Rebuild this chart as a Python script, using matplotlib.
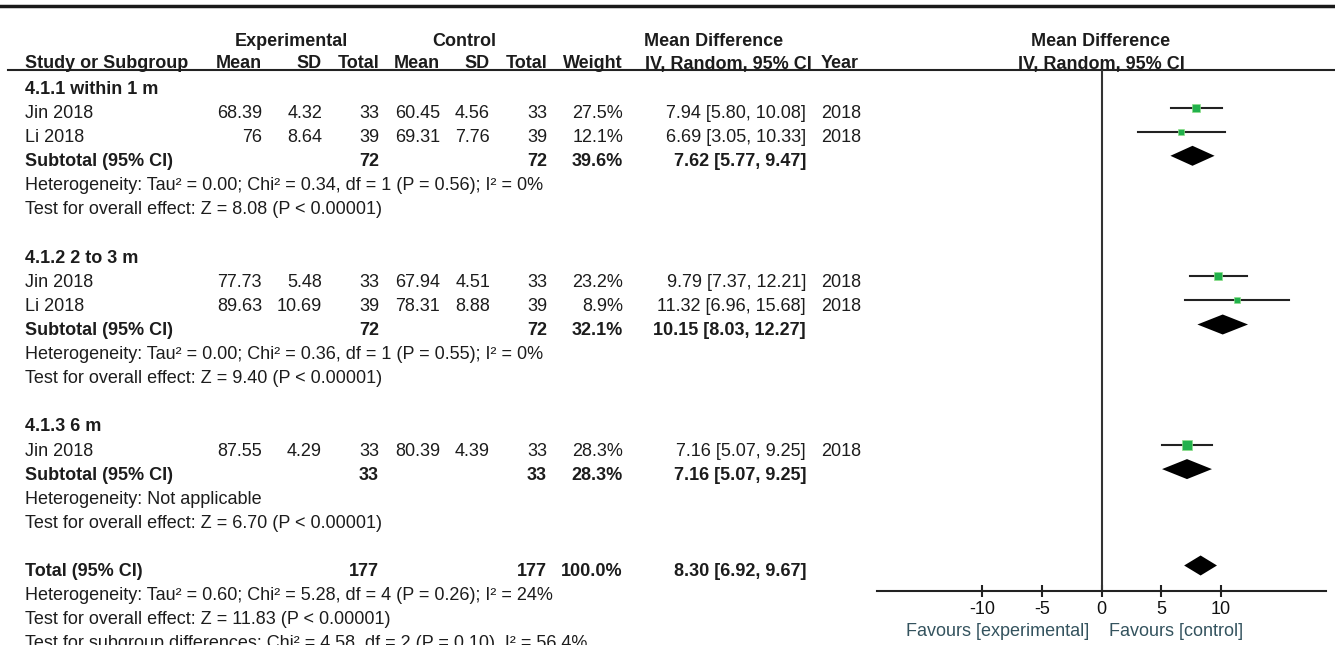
import matplotlib
matplotlib.use('Agg')
import matplotlib.pyplot as plt

plt.rcParams['font.family'] = ['Liberation Sans', 'DejaVu Sans']

# ---- data ----
groups = ['4.1.1 within 1 m', '4.1.2 2 to 3 m', '4.1.3 6 m']
studies = ['Jin 2018', 'Li 2018', 'Jin 2018', 'Li 2018', 'Jin 2018']
study_group = [0, 0, 1, 1, 2]
exp_mean = [68.39, 76, 77.73, 89.63, 87.55]
exp_sd = [4.32, 8.64, 5.48, 10.69, 4.29]
exp_n = [33, 39, 33, 39, 33]
ctl_mean = [60.45, 69.31, 67.94, 78.31, 80.39]
ctl_sd = [4.56, 7.76, 4.51, 8.88, 4.39]
ctl_n = [33, 39, 33, 39, 33]
weight = [27.5, 12.1, 23.2, 8.9, 28.3]
md = [7.94, 6.69, 9.79, 11.32, 7.16]
md_lo = [5.80, 3.05, 7.37, 6.96, 5.07]
md_hi = [10.08, 10.33, 12.21, 15.68, 9.25]
year = [2018, 2018, 2018, 2018, 2018]

sub_exp_n = [72, 72, 33]
sub_ctl_n = [72, 72, 33]
sub_weight = [39.6, 32.1, 28.3]
sub_md = [7.62, 10.15, 7.16]
sub_lo = [5.77, 8.03, 5.07]
sub_hi = [9.47, 12.27, 9.25]
sub_het = ['Heterogeneity: Tau\u00b2 = 0.00; Chi\u00b2 = 0.34, df = 1 (P = 0.56); I\u00b2 = 0%',
           'Heterogeneity: Tau\u00b2 = 0.00; Chi\u00b2 = 0.36, df = 1 (P = 0.55); I\u00b2 = 0%',
           'Heterogeneity: Not applicable']
sub_z = ['Test for overall effect: Z = 8.08 (P < 0.00001)',
         'Test for overall effect: Z = 9.40 (P < 0.00001)',
         'Test for overall effect: Z = 6.70 (P < 0.00001)']

total_exp_n = 177
total_ctl_n = 177
total_weight = 100.0
total_md, total_lo, total_hi = 8.30, 6.92, 9.67
total_notes = ['Heterogeneity: Tau\u00b2 = 0.60; Chi\u00b2 = 5.28, df = 4 (P = 0.26); I\u00b2 = 24%',
               'Test for overall effect: Z = 11.83 (P < 0.00001)',
               'Test for subgroup differences: Chi\u00b2 = 4.58, df = 2 (P = 0.10), I\u00b2 = 56.4%']

xticks = [-10, -5, 0, 5, 10]
xlabels = ['-10', '-5', '0', '5', '10']

# ---- layout (pixels) ----
W, H = 1335, 645
FS = 13
TXT = '#1c1c1c'
GREEN = '#22b14c'
y0, pitch = 89.5, 24.1
mark_off = 6
col = dict(name=25, em=262, esd=322, en=379, cm=440, csd=490, cn=547, w=623, ci=806, yr=821)

fig = plt.figure(figsize=(W / 100, H / 100), dpi=100)
fig.patch.set_facecolor('white')
tax = fig.add_axes([0, 0, 1, 1])
tax.set_xlim(0, W)
tax.set_ylim(H, 0)
tax.axis('off')

fax = fig.add_axes([877 / W, 1 - 591 / H, (1326 - 877) / W, (591 - 70) / H])
fax.set_facecolor('none')
fax.set_xlim(-18.8, 18.8)
fax.set_ylim(591, 70)


def txt(x, y, s, ha='left', bold=False, color=TXT):
    tax.text(x, y, s, ha=ha, va='center', fontsize=FS, color=color,
             fontweight='bold' if bold else 'normal')


def fmt_ci(m, lo, hi):
    return '{:.2f} [{:.2f}, {:.2f}]'.format(m, lo, hi)


def diamond(m, lo, hi, y):
    fax.fill([lo, m, hi, m], [y, y - 10, y, y + 10], color='black', lw=0)


# top rule and header
tax.plot([0, W], [6, 6], color='#1a1a1a', lw=2.5)
tax.plot([8, W], [70, 70], color='#222222', lw=1.5)
txt(291, 41, 'Experimental', ha='center', bold=True)
txt(464, 41, 'Control', ha='center', bold=True)
txt(714, 41, 'Mean Difference', ha='center', bold=True)
txt(1101, 41, 'Mean Difference', ha='center', bold=True)
hy = 64
txt(col['name'], hy, 'Study or Subgroup', bold=True)
txt(col['em'], hy, 'Mean', ha='right', bold=True)
txt(col['esd'], hy, 'SD', ha='right', bold=True)
txt(col['en'], hy, 'Total', ha='right', bold=True)
txt(col['cm'], hy, 'Mean', ha='right', bold=True)
txt(col['csd'], hy, 'SD', ha='right', bold=True)
txt(col['cn'], hy, 'Total', ha='right', bold=True)
txt(col['w'], hy, 'Weight', ha='right', bold=True)
txt(645, hy, 'IV, Random, 95% CI', bold=True)
txt(col['yr'], hy, 'Year', bold=True)
txt(1101, hy, 'IV, Random, 95% CI', ha='center', bold=True)

row = 0
for g, gname in enumerate(groups):
    txt(col['name'], y0 + row * pitch, gname, bold=True)
    row += 1
    for i in range(len(studies)):
        if study_group[i] != g:
            continue
        y = y0 + row * pitch
        txt(col['name'], y, studies[i])
        txt(col['em'], y, '{:g}'.format(exp_mean[i]), ha='right')
        txt(col['esd'], y, '{:g}'.format(exp_sd[i]), ha='right')
        txt(col['en'], y, str(exp_n[i]), ha='right')
        txt(col['cm'], y, '{:g}'.format(ctl_mean[i]), ha='right')
        txt(col['csd'], y, '{:g}'.format(ctl_sd[i]), ha='right')
        txt(col['cn'], y, str(ctl_n[i]), ha='right')
        txt(col['w'], y, '{:.1f}%'.format(weight[i]), ha='right')
        txt(col['ci'], y, fmt_ci(md[i], md_lo[i], md_hi[i]), ha='right')
        txt(col['yr'], y, str(year[i]))
        my = y - mark_off
        fax.plot([md_lo[i], md_hi[i]], [my, my], color='#222222', lw=1.5)
        sz = 1.7 * weight[i] ** 0.5 / 1.389
        fax.plot(md[i], my, 's', color=GREEN, ms=sz, mec='#8fe08a', mew=0.5)
        row += 1
    y = y0 + row * pitch
    txt(col['name'], y, 'Subtotal (95% CI)', bold=True)
    txt(col['en'], y, str(sub_exp_n[g]), ha='right', bold=True)
    txt(col['cn'], y, str(sub_ctl_n[g]), ha='right', bold=True)
    txt(col['w'], y, '{:.1f}%'.format(sub_weight[g]), ha='right', bold=True)
    txt(col['ci'], y, fmt_ci(sub_md[g], sub_lo[g], sub_hi[g]), ha='right', bold=True)
    diamond(sub_md[g], sub_lo[g], sub_hi[g], y - mark_off)
    row += 1
    txt(col['name'], y0 + row * pitch, sub_het[g])
    row += 1
    txt(col['name'], y0 + row * pitch, sub_z[g])
    row += 2

y = y0 + row * pitch
txt(col['name'], y, 'Total (95% CI)', bold=True)
txt(col['en'], y, str(total_exp_n), ha='right', bold=True)
txt(col['cn'], y, str(total_ctl_n), ha='right', bold=True)
txt(col['w'], y, '{:.1f}%'.format(total_weight), ha='right', bold=True)
txt(col['ci'], y, fmt_ci(total_md, total_lo, total_hi), ha='right', bold=True)
diamond(total_md, total_lo, total_hi, y - mark_off)
for note in total_notes:
    row += 1
    txt(col['name'], y0 + row * pitch, note)

# forest axis
fax.axvline(0, color='#333333', lw=1.5)
for s in ['top', 'left', 'right']:
    fax.spines[s].set_visible(False)
fax.spines['bottom'].set_linewidth(1.5)
fax.spines['bottom'].set_color('#222222')
fax.set_yticks([])
fax.set_xticks(xticks)
fax.set_xticklabels(xlabels)
fax.tick_params(axis='x', direction='inout', length=9, width=1.5, color='#222222',
                labelsize=FS, labelcolor='#111111', pad=3)

txt(1089, 631, 'Favours [experimental]', ha='right', color='#34535e')
txt(1109, 631, 'Favours [control]', color='#34535e')

fig.savefig('out.png', dpi=100, facecolor='white')
